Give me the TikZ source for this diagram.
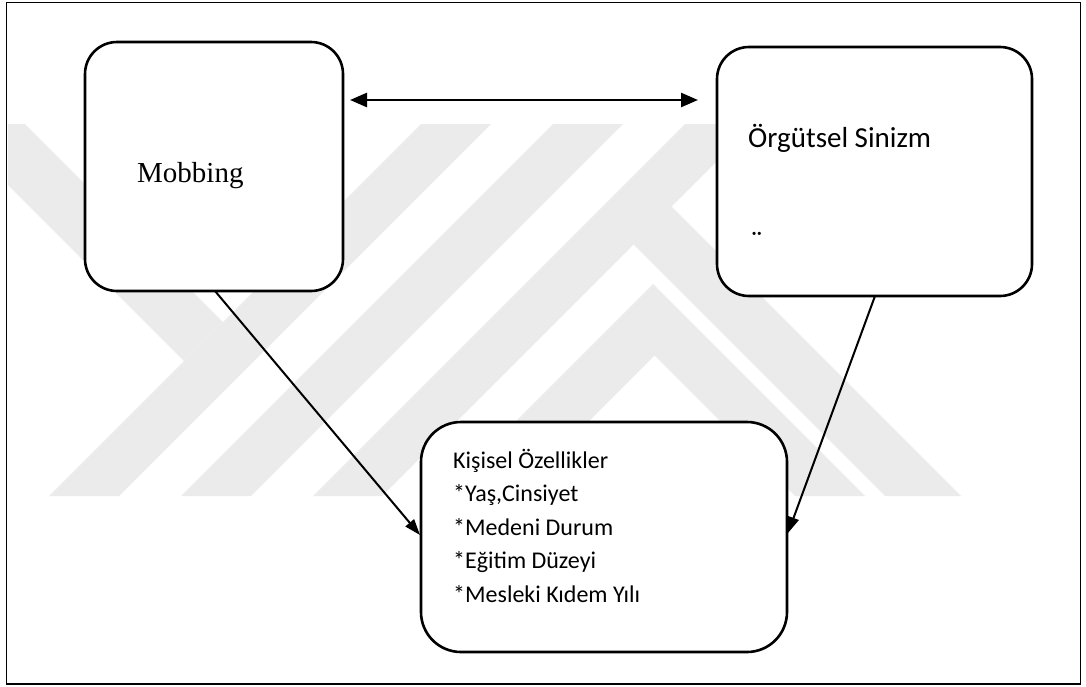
\documentclass[tikz,border=0pt]{standalone}
\usepackage{fontspec}
\setmainfont{Carlito}
\newfontfamily\seriffam{Liberation Serif}
\usetikzlibrary{arrows.meta,calc}
\definecolor{wm}{HTML}{EBEBEB}
\begin{document}
\begin{tikzpicture}[x=1pt,y=-1pt,
  box/.style={draw,line width=2.6pt,fill=white,rounded corners=32pt,inner sep=0pt,outer sep=0pt},
  conn/.style={line width=2pt,-{Triangle[length=16pt,width=11pt]}},
  txt/.style={inner sep=0pt,anchor=base west},
  bigtxt/.style={txt,font=\fontsize{29}{34}\selectfont},
  listtxt/.style={txt,font=\fontsize{24}{33}\selectfont}]
\useasboundingbox (0,0) rectangle (1086,686);
% watermark
\begin{scope}
  \clip (8,124) rectangle (1080,496);
  \fill[wm] (-53,124) -- (25,124) -- (223,322) -- (184,361) -- cycle;
  \fill[wm] (49,496) -- (119,496) -- (491,124) -- (421,124) -- cycle;
  \fill[wm] (181,496) -- (251,496) -- (623,124) -- (553,124) -- cycle;
  \fill[wm] (313,496) -- (382,496) -- (754,124) -- (685,124) -- cycle;
  \fill[wm] (637,172) -- (961,496) -- (885,496) -- (633.5,244.5) -- cycle;
  \fill[wm] (653,284) -- (865,496) -- (795,496) -- (654.5,355.5) -- (514,496) -- (441,496) -- cycle;
\end{scope}
% frame
\draw[line width=1.8pt] (6.5,2.5) rectangle (1080.5,684);
% boxes
\node[box,minimum width=258pt,minimum height=249pt] (mob) at (214,166.5) {};
\node[box,minimum width=315pt,minimum height=249pt] (org) at (874.5,171.5) {};
\node[box,minimum width=366pt,minimum height=230pt,rounded corners=40pt] (kis) at (604,537) {};
% texts
\node[txt,font=\seriffam\fontsize{29}{34}\selectfont] (mobt) at (137,182) {Mobbing};
\node[bigtxt] (orgt) at (748,147) {Örgütsel Sinizm};
\node[bigtxt] (orgd) at (751,251) {¨};
\node[listtxt] (k1) at (453,468) {Kişisel Özellikler};
\node[listtxt] (k2) at (453,501.5) {*Yaş,Cinsiyet};
\node[listtxt] (k3) at (453,535) {*Medeni Durum};
\node[listtxt] (k4) at (453,568.5) {*Eğitim Düzeyi};
\node[listtxt] (k5) at (453,602) {*Mesleki Kıdem Yılı};
% connectors
\draw[line width=2.6pt,{Triangle[length=17pt,width=14pt]}-{Triangle[length=17pt,width=14pt]}]
  ($(mob.north east)+(7,58)$) -- ($(org.north west)+(-19,53)$);
\draw[conn] ($(mob.south)+(1,0)$) -- ($(kis.west)+(-1,-2)$);
\draw[conn] ($(org.south)+(0.5,0)$) -- ($(kis.east)+(1,-4)$);
\end{tikzpicture}
\end{document}
